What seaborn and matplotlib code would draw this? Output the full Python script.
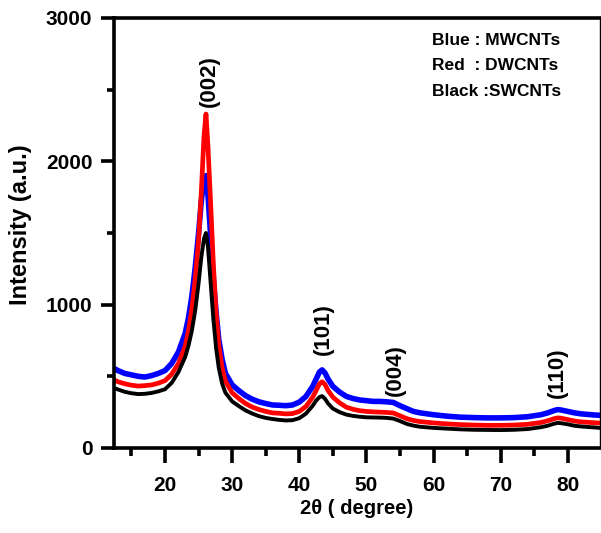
import pandas as pd
import seaborn as sns
import matplotlib.pyplot as plt
from matplotlib.ticker import MultipleLocator

# 2theta positions (degree)
two_theta = [12.4, 13, 14, 15, 16, 17, 18, 19, 20, 21, 22, 23, 23.5, 24, 24.5,
             25, 25.4, 25.8, 26.1, 26.4, 26.8, 27.2, 27.6, 28, 28.5,
             29, 30, 31, 32, 33, 34, 35, 36, 37, 38, 39, 40, 41, 42, 42.5, 43,
             43.4, 43.8, 44.3, 45, 46, 47, 48, 49, 50, 51, 52, 53, 54, 55, 56,
             57, 58, 60, 62, 64, 66, 68, 70, 72, 74, 76, 77, 78, 78.5, 79, 80,
             81, 82, 84, 84.8]

# Blue : MWCNTs
mwcnt = [555, 540, 520, 510, 500, 495, 505, 520, 540, 590, 670, 800, 910, 1060,
         1260, 1500, 1720, 1880, 1900, 1760, 1480, 1180, 950, 760, 620,
         520, 440, 400, 365, 340, 322, 310, 300, 298, 295, 300, 320, 360,
         430, 480, 530, 545, 525, 480, 430, 390, 360, 345, 335, 330, 325, 325,
         322, 318, 295, 275, 255, 245, 232, 222, 215, 212, 210, 210, 212, 218,
         232, 245, 262, 268, 265, 255, 245, 238, 230, 228]

# Red : DWCNTs
dwcnt = [475, 462, 448, 438, 432, 435, 440, 452, 470, 515, 590, 710, 820, 970,
         1180, 1450, 1780, 2170, 2330, 2100, 1700, 1280, 950, 720, 560,
         465, 385, 345, 310, 285, 268, 255, 245, 242, 238, 240, 255, 290,
         355, 400, 448, 462, 445, 400, 355, 315, 285, 270, 260, 255, 252, 250,
         248, 244, 225, 205, 192, 184, 175, 168, 163, 160, 158, 158, 160, 165,
         178, 190, 205, 210, 208, 198, 188, 182, 176, 174]

# Black : SWCNTs
swcnt = [420, 408, 392, 382, 376, 378, 384, 395, 410, 455, 530, 635, 715, 820,
         960, 1150, 1330, 1460, 1500, 1400, 1150, 900, 700, 560, 450,
         385, 325, 292, 262, 240, 222, 210, 202, 196, 192, 194, 208, 240,
         295, 330, 355, 362, 345, 310, 275, 250, 233, 224, 218, 214, 213, 212,
         210, 205, 188, 168, 156, 148, 140, 135, 130, 127, 126, 125, 127, 132,
         145, 155, 170, 175, 173, 165, 155, 150, 143, 140]

peak_labels = ["(002)", "(101)", "(004)", "(110)"]
peak_x = [26.6, 43.6, 54.3, 78.5]
peak_y = [2560, 830, 545, 524]

legend_lines = ["Blue : MWCNTs", "Red  : DWCNTs", "Black :SWCNTs"]

sns.set_theme(style="ticks")
plt.rcParams['font.family'] = ['Liberation Sans', 'DejaVu Sans']
plt.rcParams['font.weight'] = 'bold'
plt.rcParams['axes.labelweight'] = 'bold'
plt.rcParams['text.color'] = 'black'
plt.rcParams['axes.labelcolor'] = 'black'
plt.rcParams['xtick.color'] = 'black'
plt.rcParams['ytick.color'] = 'black'

fig = plt.figure(figsize=(6.01, 5.33), dpi=100)
ax = fig.add_axes([0.1897, 0.1595, 0.8087, 0.8068])

series = [("MWCNTs", mwcnt, "#0000ff", 4.0),
          ("DWCNTs", dwcnt, "#ff0000", 3.4),
          ("SWCNTs", swcnt, "#000000", 2.8)]
for name, values, color, lw in series:
    df = pd.DataFrame({"two_theta": two_theta, "intensity": values})
    sns.lineplot(data=df, x="two_theta", y="intensity", color=color,
                 linewidth=lw, estimator=None, sort=False, ax=ax)

for label, x, y in zip(peak_labels, peak_x, peak_y):
    ax.text(x, y, label, rotation=90, ha="center", va="center",
            fontsize=16, fontweight="bold", color="black")

for i, line in enumerate(legend_lines):
    ax.text(59.7, 2840 - i * 175, line, ha="left", va="center",
            fontsize=12.5, fontweight="bold", color="black")

ax.set_xlim(12.4, 84.8)
ax.set_ylim(0, 3000)
ax.xaxis.set_major_locator(MultipleLocator(10))
ax.xaxis.set_minor_locator(MultipleLocator(5))
ax.yaxis.set_major_locator(MultipleLocator(1000))
ax.yaxis.set_minor_locator(MultipleLocator(500))

ax.set_xlabel("2θ ( degree)", fontsize=14.5, labelpad=3)
ax.set_ylabel("Intensity (a.u.)", fontsize=17)
ax.yaxis.set_label_coords(-0.168, 0.519)

for side in ["left", "bottom", "top"]:
    ax.spines[side].set_linewidth(2.6)
    ax.spines[side].set_color("black")
ax.spines["right"].set_linewidth(1.0)
ax.spines["right"].set_color("black")

ax.tick_params(axis="x", which="major", direction="out", length=11, width=2.6,
               labelsize=15, pad=9)
ax.tick_params(axis="x", which="minor", direction="out", length=6, width=2.6)
ax.tick_params(axis="y", which="major", direction="out", length=9.5, width=2.6,
               labelsize=15, pad=6)
ax.tick_params(axis="y", which="minor", direction="out", length=5, width=2.6)

fig.savefig("out.png", dpi=100)
